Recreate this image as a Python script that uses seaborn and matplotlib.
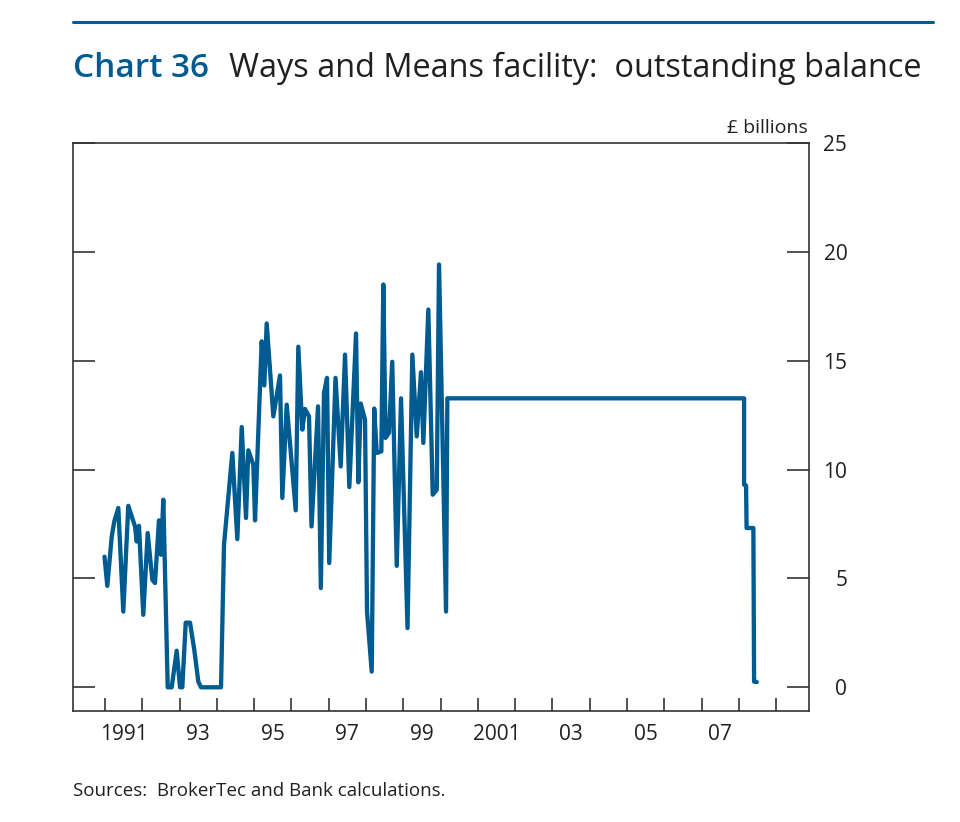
import matplotlib
matplotlib.use("Agg")
import matplotlib.pyplot as plt
import seaborn as sns
import pandas as pd
from matplotlib.ticker import FixedLocator, NullFormatter, FixedFormatter

sns.set_theme(style="white")
plt.rcParams['font.family'] = ['Open Sans', 'DejaVu Sans']

# ---- data (year fraction, £ billions) ----
years = [1990.987, 1991.062, 1991.180, 1991.249, 1991.357, 1991.491, 1991.625, 1991.805,
         1991.850, 1991.912, 1992.027, 1992.145, 1992.269, 1992.341, 1992.448, 1992.502,
         1992.564, 1992.682, 1992.789, 1992.923, 1993.012, 1993.074, 1993.165, 1993.280,
         1993.395, 1993.503, 1993.575, 1994.112, 1994.192, 1994.415, 1994.549, 1994.667,
         1994.782, 1994.844, 1994.978, 1995.024, 1995.203, 1995.273, 1995.337, 1995.515,
         1995.694, 1995.756, 1995.874, 1996.115, 1996.185, 1996.292, 1996.365, 1996.472,
         1996.539, 1996.714, 1996.789, 1996.874, 1996.955, 1997.014, 1997.183, 1997.322,
         1997.438, 1997.553, 1997.733, 1997.795, 1997.859, 1997.974, 1998.028, 1998.154,
         1998.221, 1998.288, 1998.412, 1998.465, 1998.524, 1998.618, 1998.704, 1998.825,
         1998.940, 1999.114, 1999.243, 1999.361, 1999.476, 1999.538, 1999.672, 1999.790,
         1999.898, 1999.959, 2000.147, 2000.182, 2008.141, 2008.141, 2008.194, 2008.208,
         2008.390, 2008.409, 2008.481]
balance = [6.00, 4.66, 6.92, 7.62, 8.24, 3.48, 8.34, 7.39,
           6.70, 7.42, 3.33, 7.09, 4.94, 4.79, 7.67, 6.09,
           8.62, 0.00, 0.00, 1.68, 0.00, 0.00, 2.97, 2.97,
           1.72, 0.26, 0.00, 0.00, 6.55, 10.77, 6.81, 11.96,
           7.78, 10.89, 10.23, 7.67, 15.90, 13.87, 16.72, 12.45,
           14.33, 8.70, 12.99, 8.13, 15.65, 11.84, 12.79, 12.45,
           7.39, 12.91, 4.56, 13.53, 14.22, 5.71, 14.22, 10.15,
           15.29, 9.20, 16.26, 9.42, 13.04, 12.30, 3.47, 0.72,
           12.81, 10.77, 10.84, 18.51, 11.46, 11.70, 14.96, 5.58,
           13.28, 2.72, 15.29, 11.53, 14.48, 11.23, 17.36, 8.85,
           9.08, 19.43, 3.48, 13.28, 13.28, 9.31, 9.27, 7.32,
           7.32, 0.26, 0.24]

tick_years = list(range(1991, 2010))
label_years = [1991, 1993, 1995, 1997, 1999, 2001, 2003, 2005, 2007]
x_labels = ["1991", "93", "95", "97", "99", "2001", "03", "05", "07"]
y_ticks = [0, 5, 10, 15, 20, 25]

df = pd.DataFrame({"year": years, "balance": balance})

BLUE = "#005b91"
INK = "#231f20"

fig = plt.figure(figsize=(9.6, 8.22), dpi=100)
ax = fig.add_axes([73.3 / 960, 1 - 711 / 822, (809.3 - 73.3) / 960, (711 - 143.3) / 822])

sns.lineplot(data=df, x="year", y="balance", ax=ax, estimator=None, sort=False,
             color=BLUE, linewidth=3.1, solid_joinstyle="round", solid_capstyle="round")

ax.set_xlim(1990.15, 2009.89)
ax.set_ylim(-1.09, 25)
ax.set_xlabel("")
ax.set_ylabel("")

for s in ax.spines.values():
    s.set_visible(True)
    s.set_color("#333333")
    s.set_linewidth(1.2)

# x axis: year-boundary ticks, labels centred in year
ax.xaxis.set_major_locator(FixedLocator(tick_years))
ax.xaxis.set_major_formatter(NullFormatter())
ax.xaxis.set_minor_locator(FixedLocator([y + 0.5 for y in label_years]))
ax.xaxis.set_minor_formatter(FixedFormatter(x_labels))
ax.tick_params(axis="x", which="major", direction="in", length=9.1, width=1.2,
               color="#333333", bottom=True, top=False)
ax.tick_params(axis="x", which="minor", length=0, pad=9, labelsize=15, labelcolor=INK)

# y axis: ticks both sides, labels on right
ax.set_yticks(y_ticks)
ax.set_yticklabels([str(v) for v in y_ticks])
ax.tick_params(axis="y", which="major", direction="in", length=15.6, width=1.2,
               color="#333333", left=True, right=True, labelleft=False, labelright=True,
               pad=27.4, labelsize=15, labelcolor=INK)
for lab in ax.get_yticklabels():
    lab.set_horizontalalignment("right")

# top rule
fig.add_artist(plt.Line2D([73 / 960, 933 / 960], [1 - 22 / 822, 1 - 22 / 822],
                          color=BLUE, linewidth=2.2, transform=fig.transFigure))

# title
t1 = fig.text(73 / 960, 1 - 76.7 / 822, "Chart 36", color=BLUE, fontsize=24,
              fontweight="semibold", va="baseline", ha="left")
fig.canvas.draw()
bb = t1.get_window_extent()
t2 = fig.text((bb.x1 + 20) / 960, 1 - 76.7 / 822,
              "Ways and Means facility:  outstanding balance",
              color=INK, fontsize=23.4, va="baseline", ha="left")

fig.text(808 / 960, 1 - 133.3 / 822, "£ billions", color=INK, fontsize=14,
         va="baseline", ha="right")
fig.text(73 / 960, 1 - 796 / 822, "Sources:  BrokerTec and Bank calculations.",
         color=INK, fontsize=13.5, va="baseline", ha="left")

fig.savefig("out.png", dpi=100)
